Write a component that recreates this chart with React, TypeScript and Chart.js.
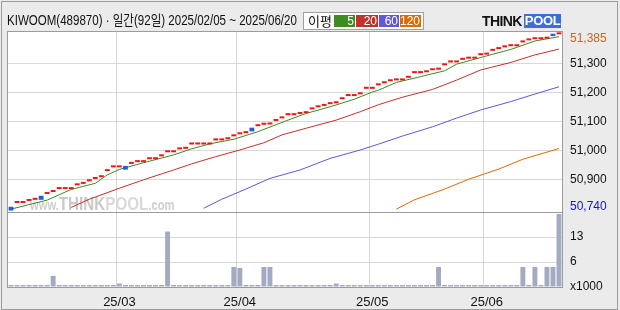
import React, { useEffect, useRef } from 'react';
import { Chart, registerables } from 'chart.js';

Chart.register(...registerables);

// ---------- data ----------
const titleText = 'KIWOOM(489870) · 일간(92일) 2025/02/05 ~ 2025/06/20';
const yearLabel = '25';

const dates = [
  '02/05', '02/06', '02/07', '02/10', '02/11', '02/12', '02/13', '02/14', '02/17', '02/18',
  '02/19', '02/20', '02/21', '02/24', '02/25', '02/26', '02/27', '02/28',
  '03/04', '03/05', '03/06', '03/07', '03/10', '03/11', '03/12', '03/13', '03/14', '03/17',
  '03/18', '03/19', '03/20', '03/21', '03/24', '03/25', '03/26', '03/27', '03/28', '03/31',
  '04/01', '04/02', '04/03', '04/04', '04/07', '04/08', '04/09', '04/10', '04/11', '04/14',
  '04/15', '04/16', '04/17', '04/18', '04/21', '04/22', '04/23', '04/24', '04/25', '04/28',
  '04/29', '04/30',
  '05/02', '05/07', '05/08', '05/09', '05/12', '05/13', '05/14', '05/15', '05/16', '05/19',
  '05/20', '05/21', '05/22', '05/23', '05/26', '05/27', '05/28', '05/29', '05/30',
  '06/02', '06/04', '06/05', '06/09', '06/10', '06/11', '06/12', '06/13', '06/16', '06/17',
  '06/18', '06/19', '06/20',
];

const closes = [
  50792, 50818, 50818, 50825, 50829, 50829, 50849, 50856, 50866, 50866,
  50866, 50879, 50884, 50893, 50901, 50907, 50928, 50941, 50941, 50933,
  50953, 50959, 50959, 50969, 50969, 50979, 50993, 50993, 51003, 51005,
  51020, 51020, 51020, 51020, 51034, 51034, 51038, 51048, 51055, 51059,
  51065, 51083, 51088, 51089, 51101, 51110, 51121, 51121, 51125, 51128,
  51141, 51148, 51153, 51159, 51162, 51176, 51187, 51187, 51193, 51212,
  51212, 51224, 51231, 51238, 51241, 51241, 51250, 51266, 51266, 51269,
  51276, 51278, 51293, 51303, 51303, 51312, 51316, 51316, 51328, 51330,
  51343, 51349, 51355, 51359, 51359, 51372, 51379, 51383, 51383, 51385,
  51394, 51400,
];

const opens = [
  50805, 50818, 50818, 50825, 50829, 50843, 50849, 50856, 50866, 50866,
  50866, 50879, 50884, 50893, 50901, 50907, 50928, 50941, 50941, 50946,
  50953, 50959, 50959, 50969, 50969, 50979, 50993, 50993, 51003, 51005,
  51020, 51020, 51020, 51020, 51034, 51034, 51038, 51048, 51055, 51059,
  51078, 51083, 51088, 51089, 51101, 51110, 51121, 51121, 51125, 51128,
  51141, 51148, 51153, 51159, 51162, 51176, 51187, 51187, 51193, 51212,
  51212, 51224, 51231, 51238, 51241, 51241, 51250, 51266, 51266, 51269,
  51276, 51278, 51293, 51303, 51303, 51312, 51316, 51316, 51328, 51330,
  51343, 51349, 51355, 51359, 51359, 51372, 51379, 51383, 51383, 51385,
  51402, 51400,
];

const volumes = [
  120, 120, 120, 120, 120, 120, 120, 2850, 120, 120,
  120, 120, 120, 120, 120, 120, 120, 120, 900, 120,
  120, 120, 120, 120, 120, 120, 14200, 120, 120, 120,
  120, 120, 120, 120, 120, 120, 120, 5130, 4880, 120,
  120, 120, 5130, 5130, 120, 120, 120, 120, 120, 120,
  120, 120, 120, 120, 900, 120, 120, 120, 120, 120,
  120, 120, 120, 120, 120, 120, 120, 120, 120, 120,
  120, 5130, 120, 120, 120, 120, 120, 120, 120, 120,
  120, 120, 120, 120, 120, 5130, 120, 5130, 120, 5130,
  5130, 18700,
];

// moving-average lines as [day index, value]
const ma5Points: [number, number][] = [
  [0, 50797], [6, 50828], [10, 50865], [14, 50886], [16, 50915], [18, 50934], [22, 50957],
  [27, 50984], [30, 51005], [33, 51022], [37, 51038], [41, 51064], [46, 51104], [49, 51127],
  [53, 51150], [57, 51176], [60, 51201], [61, 51207], [64, 51234], [68, 51254], [72, 51274],
  [74, 51297], [78, 51320], [83, 51348], [87, 51377], [91, 51392],
];
const ma20Points: [number, number][] = [
  [10, 50803], [13, 50831], [18, 50869], [22, 50898], [27, 50932], [30, 50953], [34, 50978],
  [38, 51001], [42, 51026], [45, 51053], [49, 51076], [54, 51104], [58, 51133], [61, 51157],
  [65, 51183], [70, 51210], [74, 51242], [78, 51277], [83, 51303], [87, 51329], [91, 51349],
];
const ma60Points: [number, number][] = [
  [32, 50800], [35, 50831], [39, 50866], [43, 50903], [48, 50932], [53, 50972], [58, 51001],
  [61, 51021], [65, 51049], [70, 51081], [74, 51111], [78, 51139], [83, 51168], [87, 51194],
  [91, 51219],
];
const ma120Points: [number, number][] = [
  [64, 50797], [67, 50829], [72, 50866], [76, 50900], [81, 50935], [85, 50969], [91, 51006],
];

const priceTicks = [50900, 51000, 51100, 51200, 51300];
const lastPrice = 51385;
const periodLow = 50740;
const priceMin = 50787;
const priceMax = 51408;
const volMax = 19200;

const legendItems = [
  { label: '5', color: '#3c8c22' },
  { label: '20', color: '#c2322c' },
  { label: '60', color: '#6356da' },
  { label: '120', color: '#dc6c00' },
];

// ---------- styles ----------
const BG = '#ebebeb';
const GRID = '#d9d9d9';
const FRAME = '#9c9c9c';
const UP = '#f01414';
const DOWN = '#1f5fe6';
const VOL = '#a3abc3';
const SANS = '"Liberation Sans", Arial, sans-serif';

function sparse(points: [number, number][]): (number | null)[] {
  const arr: (number | null)[] = dates.map(() => null);
  points.forEach(([i, v]) => { arr[i] = v; });
  return arr;
}

const fmt = (v: number) => v.toLocaleString('en-US');

export default function App() {
  const canvasRef = useRef<HTMLCanvasElement | null>(null);
  const titleRef = useRef<HTMLDivElement | null>(null);

  useEffect(() => {
    const t = titleRef.current;
    if (t) {
      const w = t.scrollWidth;
      if (w > 0) t.style.transform = `scaleX(${290 / w})`;
    }
    const canvas = canvasRef.current;
    if (!canvas) return;
    const monthStart = dates.map((d, i) => i > 0 && d.slice(0, 2) !== dates[i - 1].slice(0, 2));

    const framePlugin = {
      id: 'framePlugin',
      beforeDraw(chart: any) {
        const { ctx, chartArea } = chart;
        ctx.save();
        ctx.fillStyle = '#ffffff';
        ctx.fillRect(chartArea.left, chartArea.top, chartArea.right - chartArea.left, chartArea.bottom - chartArea.top);
        ctx.restore();
      },
      beforeDatasetsDraw(chart: any) {
        const { ctx } = chart;
        const y = chart.scales.y;
        const left = chart.chartArea.left;
        const base = y.bottom - 2;
        ctx.save();
        ctx.textBaseline = 'alphabetic';
        ctx.textAlign = 'left';
        ctx.translate(left + 22, base);
        ctx.scale(0.8, 1);
        ctx.fillStyle = '#cfcfcf';
        ctx.font = `bold 14px ${SANS}`;
        ctx.fillText('www.', 0, 0);
        let x = ctx.measureText('www.').width;
        ctx.font = `bold 19px ${SANS}`;
        ctx.fillStyle = '#c9c9c9';
        ctx.fillText('THINK', x, 0);
        x += ctx.measureText('THINK').width;
        ctx.fillStyle = '#d9d9d9';
        ctx.fillText('POOL', x, 0);
        x += ctx.measureText('POOL').width;
        ctx.fillStyle = '#cfcfcf';
        ctx.font = `bold 14px ${SANS}`;
        ctx.fillText('.com', x, 0);
        ctx.restore();
      },
      afterDraw(chart: any) {
        const { ctx, chartArea } = chart;
        const y = chart.scales.y;
        ctx.save();
        ctx.strokeStyle = FRAME;
        ctx.lineWidth = 1;
        ctx.strokeRect(chartArea.left - 0.5, chartArea.top - 0.5, chartArea.right - chartArea.left + 1, chartArea.bottom - chartArea.top + 1);
        ctx.beginPath();
        ctx.moveTo(chartArea.left, Math.round(y.bottom) + 0.5);
        ctx.lineTo(chartArea.right, Math.round(y.bottom) + 0.5);
        ctx.stroke();
        // current price & period low labels
        ctx.font = `12px ${SANS}`;
        ctx.textAlign = 'left';
        ctx.textBaseline = 'middle';
        const lx = y.left + 8;
        ctx.fillStyle = '#cc661c';
        ctx.fillText(fmt(lastPrice), lx, Math.max(y.getPixelForValue(lastPrice), y.top + 5.5));
        ctx.fillStyle = '#1414d2';
        ctx.fillText(fmt(periodLow), lx, Math.min(y.getPixelForValue(periodLow), y.bottom - 5.5));
        ctx.restore();
      },
    };

    const yFont = { family: SANS, size: 12 };
    const xFont = { family: SANS, size: 13 };

    const chart = new Chart(canvas, {
      type: 'bar',
      data: {
        labels: dates,
        datasets: [
          {
            type: 'bar',
            label: 'candle',
            data: opens.map((o, i) => [o, closes[i]]) as any,
            backgroundColor: opens.map((o, i) => (closes[i] < o ? DOWN : UP)),
            yAxisID: 'y',
            grouped: false,
            barPercentage: 0.8,
            categoryPercentage: 1,
            minBarLength: 2,
            order: 0,
          } as any,
          ...[ma5Points, ma20Points, ma60Points, ma120Points].map((pts, k) => ({
            type: 'line',
            label: 'MA' + legendItems[k].label,
            data: sparse(pts),
            borderColor: legendItems[k].color,
            borderWidth: 1,
            pointRadius: 0,
            spanGaps: true,
            tension: 0,
            yAxisID: 'y',
            order: 1,
          })),
          {
            type: 'bar',
            label: 'volume',
            data: volumes,
            backgroundColor: VOL,
            yAxisID: 'yv',
            grouped: false,
            barPercentage: 0.82,
            categoryPercentage: 1,
            minBarLength: 2,
            order: 2,
          } as any,
        ],
      },
      options: {
        animation: false,
        responsive: false,
        maintainAspectRatio: false,
        layout: { padding: { left: 8, top: 32, right: 0, bottom: 0 } },
        plugins: { legend: { display: false }, tooltip: { enabled: false }, title: { display: false } },
        scales: {
          x: {
            type: 'category',
            offset: true,
            grid: {
              offset: true,
              drawTicks: false,
              color: (ctx: any) => (monthStart[ctx.index] ? GRID : 'transparent'),
            },
            border: { display: false },
            ticks: {
              autoSkip: false,
              maxRotation: 0,
              minRotation: 0,
              padding: 8,
              color: '#111',
              font: xFont,
              callback: (_v: any, i: number) => (monthStart[i] ? `${yearLabel}/${dates[i].slice(0, 2)}` : ''),
            },
            afterFit: (s: any) => { s.height = 23; },
          },
          y: {
            type: 'linear',
            position: 'right',
            stack: 'main',
            stackWeight: 180,
            weight: 1,
            min: priceMin,
            max: priceMax,
            afterBuildTicks: (s: any) => { s.ticks = priceTicks.map((v) => ({ value: v })); },
            grid: { color: GRID, drawTicks: false },
            border: { display: false },
            ticks: { padding: 8, color: '#111', font: yFont, callback: (v: any) => fmt(Number(v)) },
            afterFit: (s: any) => { s.width = 58; },
          },
          yv: {
            type: 'linear',
            position: 'right',
            stack: 'main',
            stackWeight: 75,
            weight: 2,
            min: 0,
            max: volMax,
            afterBuildTicks: (s: any) => { s.ticks = [0, volMax / 3, (volMax * 2) / 3].map((v) => ({ value: v })); },
            grid: { color: (ctx: any) => (ctx.tick && ctx.tick.value === 0 ? 'transparent' : GRID), drawTicks: false },
            border: { display: false },
            ticks: {
              padding: 8,
              color: '#111',
              font: yFont,
              callback: (v: any) => (Number(v) === 0 ? 'x1000' : String(Math.round(Number(v) / 1000))),
            },
            afterFit: (s: any) => { s.width = 58; },
          },
        },
      } as any,
      plugins: [framePlugin],
    });
    return () => chart.destroy();
  }, []);

  return (
    <div style={{ position: 'fixed', left: 0, top: 0, width: 620, height: 310, background: BG, overflow: 'hidden' }}>
      <div style={{ position: 'absolute', left: 1, top: 1, width: 617, height: 309, border: `1px solid ${FRAME}`, boxSizing: 'border-box' }} />
      <canvas ref={canvasRef} width={620} height={310} style={{ position: 'absolute', left: 0, top: 0, width: 620, height: 310 }} />
      <div
        ref={titleRef}
        style={{
          position: 'absolute', left: 7, top: 12, fontFamily: `${SANS}, "Noto Sans CJK KR"`, fontSize: 14,
          color: '#111', whiteSpace: 'nowrap', lineHeight: '16px', transformOrigin: 'left center', display: 'inline-block',
        }}
      >
        {titleText}
      </div>
      <div style={{ position: 'absolute', left: 303, top: 12, width: 121, height: 18, background: '#fff', border: '1px solid #a0a0a0', boxSizing: 'border-box' }}>
        <span style={{ position: 'absolute', left: 4, top: 0, fontFamily: '"Noto Sans CJK KR", sans-serif', fontSize: 13, lineHeight: '16px', color: '#111' }}>이평</span>
        {legendItems.map((it, i) => (
          <span
            key={it.label}
            style={{
              position: 'absolute',
              left: [30, 52, 75, 96][i],
              top: 2,
              width: [21, 22, 20, 21][i],
              height: 12,
              background: it.color,
              color: '#fff',
              fontFamily: SANS,
              fontSize: 12,
              lineHeight: '12px',
              textAlign: 'right',
              paddingRight: 1,
              boxSizing: 'border-box',
            }}
          >
            {it.label}
          </span>
        ))}
      </div>
      <div style={{ position: 'absolute', left: 482, top: 14, height: 14, display: 'flex', alignItems: 'stretch', fontFamily: SANS, fontWeight: 'bold' }}>
        <span style={{ color: '#111', fontSize: 14, lineHeight: '14px', letterSpacing: -0.6 }}>THINK</span>
        <span style={{ color: '#fff', background: '#3b6fd6', fontSize: 13, lineHeight: '14px', padding: '0 1px', marginLeft: 2, width: 37, boxSizing: 'border-box', letterSpacing: -0.3 }}>POOL</span>
      </div>
    </div>
  );
}
